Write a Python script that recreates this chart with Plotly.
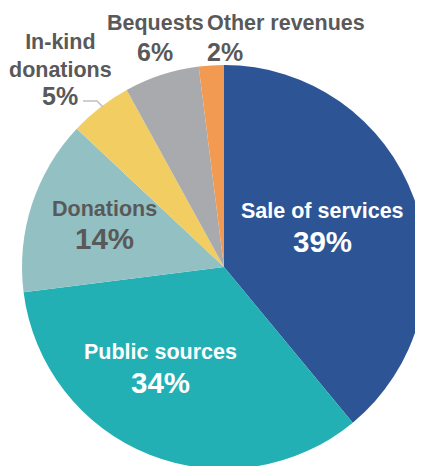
import plotly.graph_objects as go

labels = ["Sale of services", "Public sources", "Donations", "In-kind donations", "Bequests", "Other revenues"]
values = [39, 34, 14, 5, 6, 2]
colors = ["#2d5596", "#22b0b4", "#93c0c2", "#f2cd62", "#a9aaad", "#f39a52"]
# display names (line-broken) for labels
display_names = ["Sale of services", "Public sources", "Donations", "In-kind<br>donations", "Bequests", "Other revenues"]
text_colors = ["#ffffff", "#ffffff", "#595959", "#595959", "#595959", "#595959"]

W, H = 423, 466
OFF = 8  # page body margin offset
FONT = "Arial, Liberation Sans, sans-serif"

def fx(p):
    return (p - OFF) / W

def fy(p):
    return 1 - (p - OFF) / H

# pie: center (224, 267) on screen, radius 202
cx, cy, r = 224, 267, 202
fig = go.Figure(go.Pie(
    labels=labels,
    values=values,
    sort=False,
    direction="clockwise",
    rotation=0,
    marker=dict(colors=colors, line=dict(width=0)),
    textinfo="none",
    hoverinfo="label+percent",
    showlegend=False,
    domain=dict(x=[fx(cx - r), fx(cx + r)], y=[fy(cy + r), fy(cy - r)]),
))

# label placement (screen pixel centers): name line and percent line
name_pos = [(322, 211, "center"), (160, 352, "center"), (104, 209, "center"),
            (60, 56, "center"), (155, 23, "center"), (205, 23.5, "left")]
pct_pos = [(322, 241, "center"), (160, 382, "center"), (104, 238, "center"),
           (60, 96, "center"), (155, 52, "center"), (205, 52, "left")]
pct_size = [29.5, 29.5, 29.5, 25, 25, 25]

annotations = []
for i, lab in enumerate(labels):
    nx, ny, na = name_pos[i]
    px, py, pa = pct_pos[i]
    annotations.append(dict(
        x=fx(nx), y=fy(ny), xref="paper", yref="paper",
        xanchor=na, yanchor="middle", showarrow=False,
        text=display_names[i], align="center",
        font=dict(family=FONT, size=21.5, color=text_colors[i], weight="bold"),
    ))
    annotations.append(dict(
        x=fx(px), y=fy(py), xref="paper", yref="paper",
        xanchor=pa, yanchor="middle", showarrow=False,
        text=f"{values[i]}%",
        font=dict(family=FONT, size=pct_size[i], color=text_colors[i], weight="bold"),
    ))

fig.update_layout(
    width=W, height=H,
    margin=dict(l=0, r=0, t=0, b=0),
    paper_bgcolor="white",
    annotations=annotations,
    shapes=[dict(
        type="path", xref="paper", yref="paper",
        path=f"M {fx(83)} {fy(101)} L {fx(97)} {fy(101)} L {fx(103)} {fy(107)}",
        line=dict(color="#bfbfbf", width=1.5),
    )],
)

fig.write_html("out.html")
